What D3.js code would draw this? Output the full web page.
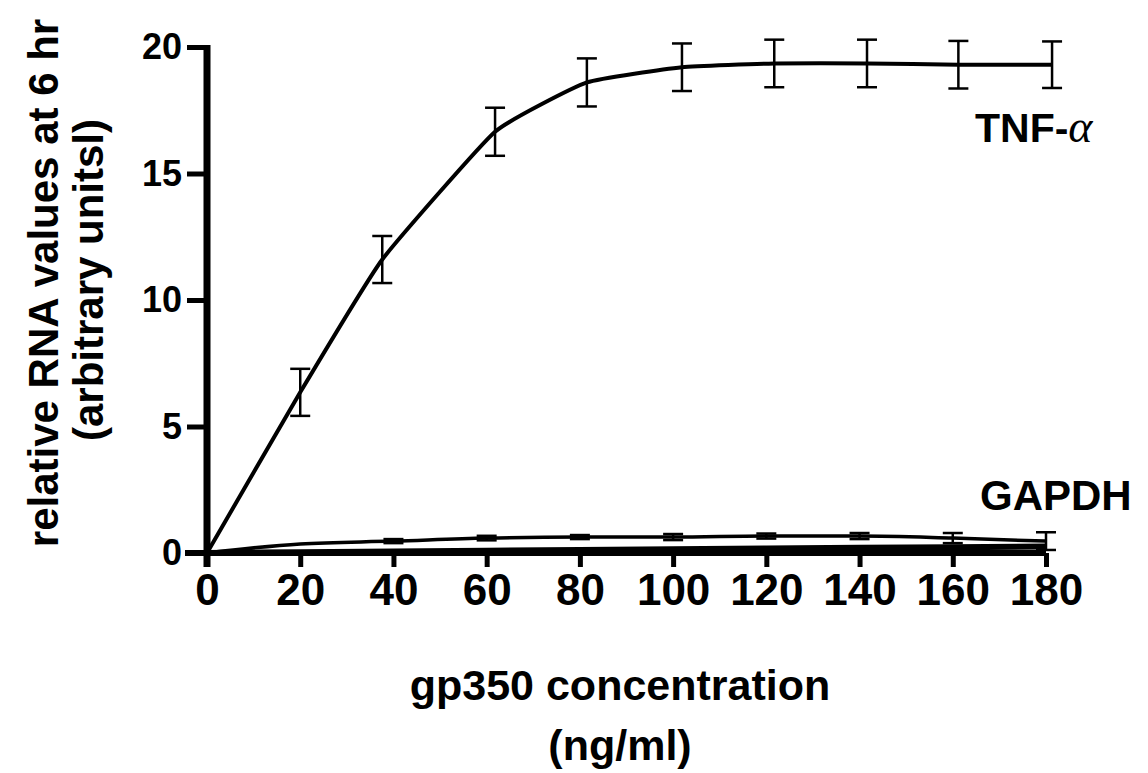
<!DOCTYPE html>
<html>
<head>
<meta charset="utf-8">
<script src="https://cdn.jsdelivr.net/npm/d3@7"></script>
<style>
  html, body { margin: 0; padding: 0; background: #fff; }
  svg { display: block; }
</style>
</head>
<body>
<script>
// ---------- data ----------
const xTicks = [0, 20, 40, 60, 80, 100, 120, 140, 160, 180];
const yTicks = [0, 5, 10, 15, 20];

// TNF-alpha (positions)
const tnfX   = [0, 20, 37.6, 61.8, 81.5, 101.9, 121.7, 141.6, 161.2, 181.3];
const tnfY   = [0, 6.35, 11.6, 16.65, 18.6, 19.2, 19.35, 19.35, 19.3, 19.3];
const tnfErr = [0, 0.93, 0.93, 0.95, 0.95, 0.94, 0.94, 0.94, 0.94, 0.92];

// GAPDH
const gapX   = [0, 20, 40, 60, 80, 100, 120, 140, 160, 180];
const gapY   = [0, 0.36, 0.47, 0.59, 0.63, 0.63, 0.67, 0.67, 0.59, 0.47];
const gapErr = [0, 0.1, 0.08, 0.09, 0.08, 0.12, 0.1, 0.12, 0.2, 0.35];

// thick low line along the axis
const lowX = [0, 20, 40, 60, 80, 100, 120, 140, 160, 180];
const lowY = [0, 0.03, 0.06, 0.09, 0.12, 0.15, 0.18, 0.21, 0.23, 0.26];

const seriesLabels = ["TNF-", "α", "GAPDH"];
const xTitle = ["gp350 concentration", "(ng/ml)"];
const yTitle = ["relative RNA values at 6 hr", "(arbitrary unitsl)"];

// ---------- chart ----------
const W = 1148, H = 773;
const svg = d3.select("body").append("svg").attr("width", W).attr("height", H);

const x = d3.scaleLinear().domain([0, 180]).range([207, 1046]);
const y = d3.scaleLinear().domain([0, 20]).range([553, 47]);

const boldFont = "'Liberation Sans', Arial, Helvetica, sans-serif";
const narrowFont = "'Liberation Sans Narrow', 'Liberation Sans', Arial, sans-serif";

// x axis
const xAxis = svg.append("g").attr("transform", `translate(0,${y(0)})`)
  .call(d3.axisBottom(x).tickValues(xTicks).tickSize(14).tickSizeOuter(0).tickPadding(7));
xAxis.select(".domain").attr("stroke", "#000").attr("stroke-width", 6).attr("d", `M${x(0)-22},0H${x(180)}`);
xAxis.selectAll(".tick line").attr("stroke", "#000").attr("stroke-width", 5);
xAxis.selectAll(".tick text").attr("fill", "#000")
  .style("font-family", narrowFont).style("font-weight", "bold").style("font-size", "44px");

// y axis
const yAxis = svg.append("g").attr("transform", `translate(${x(0)},0)`)
  .call(d3.axisLeft(y).tickValues(yTicks).tickSize(20).tickSizeOuter(0).tickPadding(5));
yAxis.select(".domain").attr("stroke", "#000").attr("stroke-width", 7).attr("d", `M0,${y(0)+14}V${y(20)-2}`);
yAxis.selectAll(".tick line").attr("stroke", "#000").attr("stroke-width", 5);
yAxis.selectAll(".tick text").attr("fill", "#000")
  .style("font-family", boldFont).style("font-weight", "bold").style("font-size", "36px");

// series
const line = d3.line().x(d => x(d[0])).y(d => y(d[1]));

const lowData = lowX.map((v, i) => [v, lowY[i]]);
svg.append("path").attr("d", line.curve(d3.curveLinear)(lowData)).attr("fill", "none").attr("stroke", "#000").attr("stroke-width", 6);

const gapData = gapX.map((v, i) => [v, gapY[i], gapErr[i]]);
svg.append("path").attr("d", line.curve(d3.curveMonotoneX)(gapData)).attr("fill", "none").attr("stroke", "#000").attr("stroke-width", 3.5);

const tnfData = tnfX.map((v, i) => [v, tnfY[i], tnfErr[i]]);
svg.append("path").attr("d", line.curve(d3.curveCardinal.tension(0.6))(tnfData)).attr("fill", "none").attr("stroke", "#000").attr("stroke-width", 4);

function errorBars(data, cap, sw) {
  const g = svg.append("g").attr("stroke", "#000").attr("stroke-width", sw);
  data.filter(d => d[2] > 0).forEach(d => {
    const cx = x(d[0]), y1 = y(d[1] + d[2]), y2 = y(d[1] - d[2]);
    g.append("line").attr("x1", cx).attr("x2", cx).attr("y1", y1).attr("y2", y2);
    g.append("line").attr("x1", cx - cap).attr("x2", cx + cap).attr("y1", y1).attr("y2", y1);
    g.append("line").attr("x1", cx - cap).attr("x2", cx + cap).attr("y1", y2).attr("y2", y2);
  });
}
errorBars(tnfData, 10, 2.5);
errorBars(gapData.filter(d => d[0] >= 40), 10, 2.5);

// series labels
const tnfLabel = svg.append("text").attr("x", 975).attr("y", 142)
  .style("font-family", boldFont).style("font-weight", "bold").style("font-size", "41px");
tnfLabel.append("tspan").text(seriesLabels[0]);
tnfLabel.append("tspan").text(seriesLabels[1])
  .style("font-family", "'Liberation Serif', 'DejaVu Serif', serif").style("font-style", "italic")
  .style("font-weight", "normal").style("font-size", "46px");
svg.append("text").attr("x", 980).attr("y", 510).text(seriesLabels[2])
  .style("font-family", boldFont).style("font-weight", "bold").style("font-size", "42px");

// axis titles
const xt = svg.append("text").attr("text-anchor", "middle")
  .style("font-family", boldFont).style("font-weight", "bold").style("font-size", "43px");
xt.append("tspan").attr("x", 620).attr("y", 700).text(xTitle[0]);
xt.append("tspan").attr("x", 620).attr("y", 760).text(xTitle[1]);

const yt = svg.append("text").attr("text-anchor", "middle").attr("transform", "rotate(-90)")
  .style("font-family", boldFont).style("font-weight", "bold").style("font-size", "42px");
yt.append("tspan").attr("x", -283).attr("y", 58).text(yTitle[0]);
yt.append("tspan").attr("x", -280).attr("y", 103).text(yTitle[1]);
</script>
</body>
</html>
